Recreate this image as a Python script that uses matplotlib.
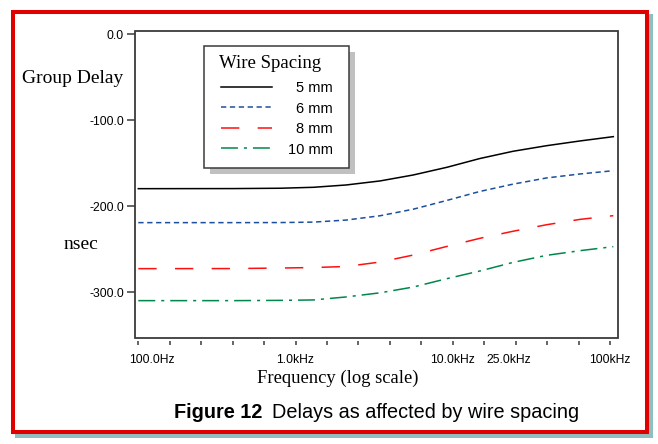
import matplotlib
matplotlib.use('Agg')
import matplotlib.pyplot as plt
import numpy as np
from matplotlib.patches import Rectangle
from matplotlib.lines import Line2D

# values (frequency in Hz, group delay in nsec)
freq_hz = [100, 400, 800, 1300, 2100, 3450, 5600, 9200, 14900, 24200, 39600, 64500, 105000]
delay_5mm = [-179.3, -179.2, -178.8, -177.7, -175.0, -170.3, -163.4, -154.4, -144.2, -135.8, -129.3, -123.8, -118.8]
delay_6mm = [-218.8, -218.8, -218.7, -218.2, -215.8, -210.8, -203.2, -192.9, -182.5, -174.0, -166.8, -162.2, -158.4]
delay_8mm = [-272.3, -272.2, -271.6, -271.0, -269.8, -264.6, -256.5, -246.4, -237.0, -228.8, -221.2, -215.0, -210.7]
delay_10mm = [-309.5, -309.5, -309.2, -308.7, -305.2, -300.4, -293.7, -283.9, -275.0, -265.0, -256.8, -251.4, -246.7]
spacing_labels = ['5 mm', '6 mm', '8 mm', '10 mm']

xtick_vals = [100, 1000, 10000, 10 ** 4.4, 100000]
xtick_labels = ['100.0Hz', '1.0kHz', '10.0kHz', '25.0kHz', '100kHz']
ytick_vals = [0, -100, -200, -300]
ytick_labels = ['0.0', '-100.0', '-200.0', '-300.0']

W, H = 658, 444
SANS = 'Liberation Sans'
SERIF = 'Liberation Serif'
FRAME = '#3a3a3a'

plt.rcParams['lines.scale_dashes'] = False


def fx(px):
    return px / W


def fy(py):
    return 1 - py / H


fig = plt.figure(figsize=(W / 100, H / 100), dpi=100)

# page frame: teal drop shadow + red border
fig.add_artist(Rectangle((fx(15), fy(438)), (653 - 15) / W, (438 - 14) / H,
                         transform=fig.transFigure, facecolor='#8fbfbf',
                         edgecolor='none', zorder=-3))
fig.add_artist(Rectangle((fx(13), fy(432)), (647 - 13) / W, (432 - 12) / H,
                         transform=fig.transFigure, facecolor='white',
                         edgecolor='#e00000', lw=2.9, zorder=-2))

ax = fig.add_axes([fx(135), fy(338.3), (617.7 - 135) / W, (338.3 - 30.7) / H])
ax.set_xscale('log')

series = [delay_5mm, delay_6mm, delay_8mm, delay_10mm]
colors = ['black', '#1c4f9c', '#ff1010', '#00874a']
dashes = [None, (3.8, 2.6), (13.2, 13.2), (12.2, 4.3, 2.2, 4.3)]
for vals, c, d in zip(series, colors, dashes):
    line, = ax.plot(freq_hz, vals, color=c, lw=1.1)
    if d is not None:
        line.set_dashes(d)

ax.set_xlim(10 ** 1.979, 10 ** 5.049)
ax.set_ylim(-353.3, 4.4)

ax.set_xticks(10 ** (2 + 0.2 * np.arange(16)))
ax.set_xticks([], minor=True)
ax.set_xticklabels([''] * 16)
ax.set_yticks(ytick_vals, labels=ytick_labels)

ax.tick_params(axis='x', which='major', direction='out', length=3.2, width=1.1,
               color=FRAME)
ax.tick_params(axis='y', direction='out', length=6, width=1.1, color=FRAME,
               pad=2, labelsize=8.7)
for lab in ax.get_yticklabels():
    lab.set_family(SANS)

# x labels placed under their ticks, a couple nudged like the original
nudge = [9.5, 0, 0, -5, 0]
for v, lab, dx in zip(xtick_vals, xtick_labels, nudge):
    ax.annotate(lab, xy=(v, 0), xycoords=ax.get_xaxis_transform(),
                xytext=(dx, -17.6), textcoords='offset points',
                ha='center', va='baseline', family=SANS, fontsize=8.7,
                annotation_clip=False)

# box frame, x ticks hang slightly below it
for s in ax.spines.values():
    s.set_visible(False)
ax.spines['bottom'].set_position(('outward', 1.8))
ax.add_patch(Rectangle((0, 0), 1, 1, transform=ax.transAxes, fill=False,
                       edgecolor=FRAME, lw=1.3, clip_on=False, zorder=5))


# legend drawn by hand
def axx(px):
    return (px - 135) / 482.7


def axy(py):
    return (338.3 - py) / 307.6


bx0, bx1, by0, by1 = axx(204), axx(348.7), axy(167.7), axy(45.7)
ax.add_patch(Rectangle((bx0 + 6 / 482.7, by0 - 6 / 307.6), bx1 - bx0, by1 - by0,
                       transform=ax.transAxes, facecolor='#c0c0c0',
                       edgecolor='none', zorder=6))
ax.add_patch(Rectangle((bx0, by0), bx1 - bx0, by1 - by0, transform=ax.transAxes,
                       facecolor='white', edgecolor=FRAME, lw=1.1, zorder=7))
ax.text(axx(219), axy(68.3), 'Wire Spacing', transform=ax.transAxes,
        family=SERIF, fontsize=13.5, va='baseline', ha='left', zorder=8)
for i, (lab, c, d) in enumerate(zip(spacing_labels, colors, dashes)):
    yrow = 87 + 20.4 * i
    h = Line2D([axx(221), axx(272)], [axy(yrow)] * 2, transform=ax.transAxes,
               color=c, lw=1.1, zorder=8)
    if d is not None:
        h.set_dashes(d)
    ax.add_line(h)
    ax.text(axx(333), axy(yrow + 5.5), lab, transform=ax.transAxes,
            family=SANS, fontsize=10.5, ha='right', va='baseline', zorder=8)

# axis titles
fig.text(fx(72.5), fy(83.3), 'Group Delay', family=SERIF, fontsize=14,
         ha='center', va='baseline')
fig.text(fx(81.2), fy(249), 'nsec', family=SERIF, fontsize=14,
         ha='center', va='baseline')
fig.text(fx(337.8), fy(383.3), 'Frequency (log scale)', family=SERIF,
         fontsize=13.4, ha='center', va='baseline')

# caption
cap = fig.text(fx(174), fy(418.3), 'Figure 12', family=SANS, weight='bold',
               fontsize=14.3, ha='left', va='baseline')
ax.annotate('Delays as affected by wire spacing', xy=(1, 0), xycoords=cap,
            xytext=(7, 0), textcoords='offset points', family=SANS,
            fontsize=14.3, ha='left', va='bottom', annotation_clip=False)

fig.savefig('out.png', dpi=100)
